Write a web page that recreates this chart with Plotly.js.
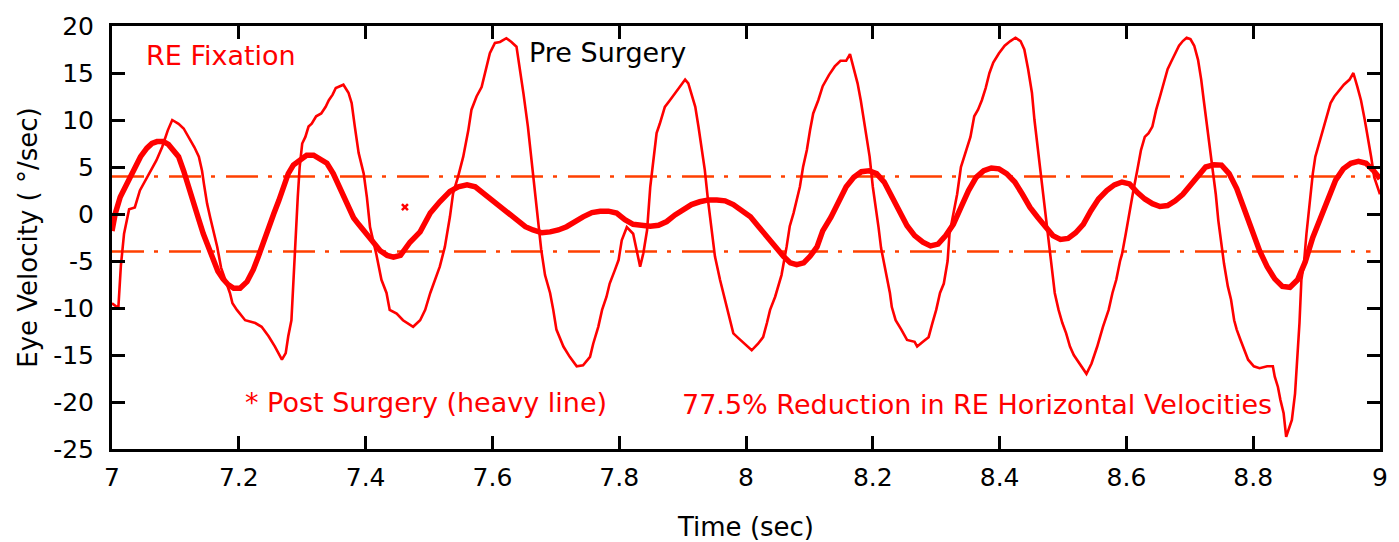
<!DOCTYPE html>
<html>
<head>
<meta charset="utf-8">
<script src="https://cdn.plot.ly/plotly-3.0.1.min.js"></script>
<style>
html,body{margin:0;padding:0;background:#fff;}
#chart{width:1399px;height:542px;}
</style>
</head>
<body>
<div id="chart"></div>
<script>
// Pre surgery (thin line)
const preTime = [7.000,7.010,7.014,7.019,7.027,7.036,7.044,7.053,7.062,7.070,7.079,7.088,7.095,7.105,7.113,7.121,7.130,7.137,7.142,7.145,7.150,7.155,7.160,7.166,7.172,7.180,7.186,7.190,7.197,7.210,7.226,7.236,7.247,7.257,7.268,7.274,7.278,7.283,7.286,7.290,7.293,7.296,7.300,7.305,7.310,7.315,7.322,7.330,7.337,7.342,7.348,7.353,7.365,7.373,7.378,7.383,7.389,7.397,7.402,7.407,7.417,7.425,7.433,7.438,7.449,7.459,7.475,7.486,7.494,7.502,7.509,7.517,7.525,7.533,7.538,7.546,7.554,7.562,7.567,7.575,7.583,7.590,7.596,7.604,7.612,7.622,7.630,7.638,7.643,7.649,7.656,7.664,7.670,7.677,7.683,7.691,7.696,7.701,7.712,7.722,7.733,7.743,7.754,7.759,7.767,7.773,7.780,7.785,7.793,7.799,7.804,7.812,7.822,7.828,7.833,7.838,7.844,7.849,7.854,7.859,7.864,7.872,7.880,7.888,7.896,7.904,7.909,7.914,7.920,7.925,7.930,7.935,7.940,7.946,7.951,7.959,7.964,7.970,7.975,7.980,7.988,7.998,8.009,8.019,8.027,8.033,8.038,8.046,8.051,8.056,8.064,8.069,8.075,8.080,8.085,8.090,8.096,8.101,8.106,8.114,8.121,8.131,8.140,8.149,8.158,8.164,8.170,8.176,8.181,8.185,8.191,8.195,8.200,8.205,8.209,8.213,8.218,8.221,8.227,8.230,8.236,8.245,8.254,8.266,8.270,8.279,8.288,8.294,8.300,8.306,8.312,8.318,8.321,8.327,8.333,8.339,8.348,8.354,8.360,8.366,8.372,8.378,8.384,8.390,8.399,8.408,8.417,8.425,8.433,8.439,8.445,8.451,8.455,8.460,8.464,8.469,8.474,8.478,8.482,8.487,8.493,8.499,8.505,8.511,8.517,8.526,8.537,8.545,8.554,8.563,8.572,8.578,8.584,8.590,8.593,8.599,8.605,8.611,8.617,8.623,8.629,8.635,8.641,8.647,8.653,8.659,8.665,8.671,8.677,8.683,8.689,8.695,8.701,8.707,8.713,8.718,8.722,8.727,8.732,8.736,8.741,8.745,8.750,8.754,8.760,8.765,8.770,8.774,8.780,8.786,8.792,8.801,8.810,8.822,8.831,8.834,8.839,8.843,8.848,8.852,8.857,8.861,8.866,8.869,8.873,8.876,8.880,8.884,8.889,8.894,8.898,8.904,8.910,8.916,8.922,8.928,8.934,8.943,8.952,8.958,8.964,8.970,8.976,8.982,8.986,8.991,8.996,9.000];
const preVel = [-9.5,-10.0,-5.5,-2.1,0.5,0.7,2.5,3.6,4.6,5.7,7.1,8.9,10.0,9.6,9.1,8.2,7.1,6.1,4.6,3.2,1.1,-0.4,-1.8,-3.5,-5.7,-7.2,-8.4,-9.5,-10.2,-11.3,-11.6,-12.0,-13.0,-14.1,-15.5,-14.8,-13.0,-11.3,-7.0,-2.0,1.8,5.0,7.5,8.2,9.3,9.6,10.4,10.7,11.4,12.1,12.7,13.4,13.75,12.9,11.8,9.3,6.5,4.3,1.8,-1.4,-4.3,-7.0,-8.4,-10.2,-10.6,-11.3,-12.0,-11.3,-10.2,-8.4,-7.0,-5.6,-3.5,-0.3,2.2,4.0,6.1,8.9,11.1,12.5,13.5,15.3,17.1,18.2,18.3,18.7,18.3,17.8,15.7,12.8,9.3,4.3,0.8,-3.8,-6.5,-8.4,-10.2,-12.3,-14.1,-15.2,-16.2,-16.1,-15.2,-13.8,-12.0,-10.2,-8.8,-7.4,-6.0,-4.9,-2.8,-1.4,-2.1,-4.2,-5.6,-4.2,-1.7,2.9,6.1,8.6,9.6,11.4,12.1,12.8,13.5,14.3,13.9,12.8,11.4,9.3,7.2,4.7,1.5,-1.7,-4.5,-7.0,-8.4,-10.2,-11.6,-12.7,-13.2,-13.8,-14.5,-13.8,-13.1,-11.6,-10.2,-8.8,-7.7,-6.5,-3.5,-1.3,0.1,1.5,2.9,5.0,6.8,8.9,10.7,12.1,13.6,14.8,15.7,16.3,16.3,17.0,15.4,13.9,12.1,10.4,8.2,6.1,2.9,0.7,-1.4,-3.6,-5.2,-6.3,-8.4,-9.9,-11.3,-12.3,-13.4,-13.6,-14.1,-13.6,-13.1,-11.6,-10.2,-8.4,-7.4,-5.0,-2.1,0.0,2.1,5.0,6.8,8.2,10.4,11.1,12.1,13.4,15.0,16.1,17.1,17.9,18.4,18.75,18.4,17.5,15.4,12.9,10.0,7.1,5.0,2.1,-1.4,-3.6,-5.7,-8.4,-10.2,-11.6,-12.7,-14.1,-15.0,-15.9,-17.0,-15.9,-14.1,-12.0,-10.2,-8.4,-7.0,-5.0,-4.3,-2.1,0.4,2.5,4.6,6.8,8.2,8.6,9.3,11.1,12.5,13.9,15.4,16.25,17.1,17.9,18.4,18.75,18.6,17.9,16.4,14.3,12.1,9.6,7.1,5.0,2.1,-0.7,-3.6,-5.3,-7.7,-9.1,-11.3,-12.3,-13.4,-14.5,-15.5,-16.2,-16.4,-16.2,-16.2,-17.3,-18.4,-19.8,-21.2,-23.7,-22.6,-21.9,-19.1,-15.9,-11.6,-7.0,-5.3,-2.1,1.4,4.3,6.1,7.5,8.9,10.4,11.8,12.5,13.0,13.75,14.3,15.0,13.6,12.1,10.0,7.9,6.1,3.9,2.9,2.1];

// Post surgery (heavy line)
const postTime = [7.000,7.005,7.013,7.021,7.029,7.037,7.045,7.055,7.063,7.071,7.081,7.089,7.097,7.105,7.113,7.120,7.128,7.136,7.144,7.152,7.160,7.167,7.175,7.183,7.192,7.202,7.213,7.223,7.231,7.239,7.247,7.255,7.263,7.271,7.278,7.286,7.297,7.307,7.318,7.328,7.339,7.349,7.357,7.365,7.373,7.381,7.389,7.397,7.405,7.413,7.423,7.434,7.444,7.455,7.470,7.486,7.502,7.517,7.533,7.546,7.560,7.573,7.586,7.600,7.612,7.625,7.638,7.652,7.664,7.678,7.691,7.704,7.717,7.730,7.743,7.757,7.770,7.783,7.796,7.809,7.822,7.835,7.849,7.862,7.875,7.888,7.901,7.914,7.927,7.941,7.954,7.967,7.980,7.993,8.007,8.020,8.033,8.046,8.059,8.070,8.080,8.091,8.101,8.112,8.121,8.134,8.146,8.158,8.170,8.182,8.194,8.206,8.218,8.230,8.242,8.254,8.266,8.279,8.291,8.303,8.315,8.327,8.339,8.351,8.363,8.375,8.387,8.399,8.411,8.424,8.436,8.448,8.460,8.472,8.484,8.496,8.508,8.520,8.532,8.544,8.556,8.569,8.581,8.593,8.605,8.617,8.629,8.641,8.653,8.665,8.677,8.689,8.701,8.713,8.725,8.738,8.750,8.762,8.774,8.786,8.798,8.810,8.822,8.834,8.846,8.858,8.870,8.882,8.894,8.906,8.918,8.930,8.942,8.954,8.966,8.978,8.990,9.000];
const postVel = [-1.8,0.0,1.8,2.9,3.9,5.0,6.1,7.0,7.5,7.7,7.7,7.4,6.8,6.1,4.6,3.2,1.4,-0.4,-2.1,-3.6,-5.0,-6.1,-6.9,-7.5,-7.9,-7.9,-7.2,-5.9,-4.5,-2.9,-1.4,0.0,1.4,2.9,4.3,5.2,5.7,6.25,6.25,5.9,5.4,4.3,3.2,1.8,0.7,-0.4,-1.1,-1.8,-2.5,-3.2,-3.9,-4.4,-4.6,-4.4,-3.0,-1.9,0.1,1.3,2.4,2.9,3.1,2.9,2.2,1.5,0.8,0.1,-0.6,-1.35,-1.7,-2.0,-1.9,-1.7,-1.35,-0.8,-0.3,0.15,0.3,0.3,0.1,-0.6,-1.1,-1.2,-1.3,-1.2,-0.8,-0.1,0.4,1.0,1.3,1.5,1.5,1.4,1.0,0.4,-0.3,-1.35,-2.4,-3.5,-4.5,-5.2,-5.4,-5.2,-4.5,-3.5,-1.8,-0.35,1.4,2.9,3.9,4.5,4.6,4.3,3.4,1.8,0.2,-1.25,-2.3,-3.0,-3.4,-3.2,-2.3,-1.1,0.7,2.5,3.9,4.6,4.9,4.8,4.3,3.4,2.1,0.7,-0.35,-1.4,-2.3,-2.7,-2.6,-2.0,-1.1,0.35,1.6,2.5,3.1,3.4,3.2,2.3,1.6,1.1,0.8,0.9,1.4,2.1,3.0,4.1,5.0,5.25,5.2,4.3,2.7,0.5,-1.8,-3.9,-5.6,-6.9,-7.7,-7.8,-7.0,-5.1,-2.5,-0.35,1.8,3.6,4.8,5.4,5.6,5.4,4.6,3.75];

// Threshold (dash-dot) lines
const limitTime = [7.0, 8.985];
const upperLimit = [4, 4];
const lowerLimit = [-4, -4];

// Star marker
const starTime = [7.462];
const starVel = [0.74];

// Ticks
const xTickVals = [7, 7.2, 7.4, 7.6, 7.8, 8, 8.2, 8.4, 8.6, 8.8, 9];
const xTickText = ['7', '7.2', '7.4', '7.6', '7.8', '8', '8.2', '8.4', '8.6', '8.8', '9'];
const yTickVals = [-25, -20, -15, -10, -5, 0, 5, 10, 15, 20];
const yTickText = ['-25', '-20', '-15', '-10', '-5', '0', '5', '10', '15', '20'];

const FONT = 'DejaVu Sans';
const RED = '#ff0000';
const DASHCOL = '#ff4000';
const DASH = '32px,10px,4px,11px';

const traces = [
  {x: limitTime, y: upperLimit, mode: 'lines', line: {color: DASHCOL, width: 2.5, dash: DASH}, hoverinfo: 'skip'},
  {x: limitTime, y: lowerLimit, mode: 'lines', line: {color: DASHCOL, width: 2.5, dash: DASH}, hoverinfo: 'skip'},
  {x: preTime, y: preVel, mode: 'lines', line: {color: RED, width: 2.6}},
  {x: postTime, y: postVel, mode: 'lines', line: {color: RED, width: 5.5}},
  {x: starTime, y: starVel, mode: 'markers', marker: {symbol: 'x-thin-open', size: 6, color: RED, line: {color: RED, width: 2.5}}}
];

const axisCommon = {
  showgrid: false, zeroline: false, showline: true, linecolor: '#000', linewidth: 3,
  mirror: 'ticks', ticks: 'inside', ticklen: 13, tickwidth: 3, tickcolor: '#000',
  tickfont: {family: FONT, size: 25, color: '#000'}, tickmode: 'array'
};

const layout = {
  width: 1399, height: 542,
  margin: {l: 112, r: 19, t: 26, b: 93},
  paper_bgcolor: '#fff', plot_bgcolor: '#fff',
  showlegend: false,
  font: {family: FONT, color: '#000'},
  xaxis: Object.assign({}, axisCommon, {
    range: [7, 9], tickvals: xTickVals, ticktext: xTickText, ticklabelstandoff: 4,
    title: {text: 'Time (sec)', font: {family: FONT, size: 26, color: '#000'}, standoff: 36}
  }),
  yaxis: Object.assign({}, axisCommon, {
    range: [-25, 20], tickvals: yTickVals, ticktext: yTickText, ticklabelstandoff: 10,
    title: {text: 'Eye Velocity ( \u00b0/sec)', font: {family: FONT, size: 26, color: '#000'}, standoff: 9}
  }),
  annotations: [
    {xref: 'x', yref: 'y', x: 7.050, y: 16.9, xanchor: 'left', yanchor: 'middle', showarrow: false,
     text: 'RE Fixation', font: {family: FONT, size: 27, color: RED}},
    {xref: 'x', yref: 'y', x: 7.654, y: 17.2, xanchor: 'left', yanchor: 'middle', showarrow: false,
     text: 'Pre Surgery', font: {family: FONT, size: 27, color: '#000'}},
    {xref: 'x', yref: 'y', x: 7.207, y: -20.0, xanchor: 'left', yanchor: 'middle', showarrow: false,
     text: '* Post Surgery (heavy line)', font: {family: FONT, size: 27, color: RED}},
    {xref: 'x', yref: 'y', x: 7.896, y: -20.3, xanchor: 'left', yanchor: 'middle', showarrow: false,
     text: '77.5% Reduction in RE Horizontal Velocities', font: {family: FONT, size: 27, color: RED}}
  ]
};

Plotly.newPlot('chart', traces, layout, {staticPlot: true, displayModeBar: false});
</script>
</body>
</html>
